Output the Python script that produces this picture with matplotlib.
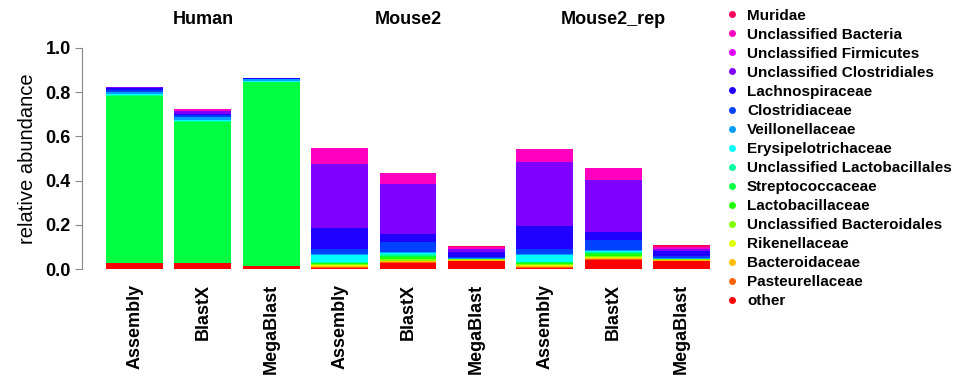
import numpy as np
import matplotlib
matplotlib.use('Agg')
import matplotlib.pyplot as plt
from matplotlib.colors import hsv_to_rgb
from matplotlib.lines import Line2D

plt.rcParams['font.family'] = ['Liberation Sans', 'DejaVu Sans']

groups = ['Human', 'Mouse2', 'Mouse2_rep']
methods = ['Assembly', 'BlastX', 'MegaBlast']

# families from the bottom of the stack to the top
families = ['other', 'Pasteurellaceae', 'Bacteroidaceae', 'Rikenellaceae',
            'Unclassified Bacteroidales', 'Lactobacillaceae',
            'Streptococcaceae', 'Unclassified Lactobacillales',
            'Erysipelotrichaceae', 'Veillonellaceae', 'Clostridiaceae',
            'Lachnospiraceae', 'Unclassified Clostridiales',
            'Unclassified Firmicutes', 'Unclassified Bacteria', 'Muridae']

# columns: Human A/B/M, Mouse2 A/B/M, Mouse2_rep A/B/M
other = [0.027, 0.027, 0.015, 0.005, 0.028, 0.036, 0.006, 0.040, 0.037]
pasteurellaceae = [0, 0, 0, 0.004, 0.003, 0.002, 0.004, 0.004, 0.002]
bacteroidaceae = [0, 0, 0, 0.004, 0.004, 0.002, 0.004, 0.005, 0.002]
rikenellaceae = [0, 0, 0, 0.004, 0.004, 0.002, 0.004, 0.005, 0.002]
uncl_bacteroidales = [0, 0, 0, 0.006, 0.006, 0.002, 0.006, 0.006, 0.002]
lactobacillaceae = [0, 0, 0, 0.005, 0.009, 0.001, 0.005, 0.008, 0.001]
streptococcaceae = [0.757, 0.636, 0.830, 0.002, 0.006, 0.001, 0.002, 0.006, 0.001]
uncl_lactobacillales = [0.002, 0.006, 0, 0.003, 0.008, 0, 0.003, 0.004, 0]
erysipelotrichaceae = [0.004, 0.006, 0.004, 0.032, 0.006, 0.001, 0.032, 0.005, 0.001]
veillonellaceae = [0.012, 0.012, 0.010, 0.004, 0.004, 0.002, 0.004, 0.002, 0.002]
clostridiaceae = [0.008, 0.008, 0.002, 0.022, 0.045, 0.008, 0.022, 0.045, 0.008]
lachnospiraceae = [0.007, 0.007, 0.001, 0.097, 0.038, 0.020, 0.105, 0.038, 0.022]
uncl_clostridiales = [0.006, 0.012, 0.001, 0.287, 0.226, 0.012, 0.287, 0.234, 0.012]
uncl_firmicutes = [0, 0, 0, 0, 0, 0, 0, 0, 0]
uncl_bacteria = [0, 0.008, 0, 0.072, 0.046, 0.010, 0.060, 0.053, 0.010]
muridae = [0, 0, 0, 0, 0, 0.006, 0, 0, 0.006]

stack = [other, pasteurellaceae, bacteroidaceae, rikenellaceae,
         uncl_bacteroidales, lactobacillaceae, streptococcaceae,
         uncl_lactobacillales, erysipelotrichaceae, veillonellaceae,
         clostridiaceae, lachnospiraceae, uncl_clostridiales,
         uncl_firmicutes, uncl_bacteria, muridae]

n = len(families)
colors = [hsv_to_rgb((i / n, 1, 1)) for i in range(n)]

labels = methods * len(groups)
x = 0.7 + 1.2 * np.arange(len(labels))

fig = plt.figure(figsize=(9.65, 3.81), dpi=100)
ax = fig.add_axes([82 / 965, 103 / 381, 652 / 965, 239 / 381])

bottom = np.zeros(len(labels))
for vals, c in zip(stack, colors):
    vals = np.array(vals)
    ax.bar(x, vals, width=1.0, bottom=bottom, color=c, linewidth=0)
    bottom += vals

ax.set_xlim(-0.224, 11.224)
ax.set_ylim(-0.04, 1.04)
for s in ['top', 'right', 'bottom']:
    ax.spines[s].set_visible(False)
ax.spines['left'].set_bounds(0, 1)
ax.spines['left'].set_color('#888888')
ax.set_yticks(np.arange(0, 1.01, 0.2))
ax.set_yticklabels(['%.1f' % v for v in np.arange(0, 1.01, 0.2)],
                   fontsize=13, fontweight='bold')
ax.tick_params(axis='y', color='#888888', length=5, pad=3)
ax.set_xticks(x)
ax.set_xticklabels(labels, rotation=90, fontsize=13, fontweight='bold')
ax.tick_params(axis='x', length=0, pad=4)
ax.set_ylabel('relative abundance', fontsize=14.5, labelpad=6)

for i, g in enumerate(groups):
    ax.text(x[3 * i + 1], 1.08, g, transform=ax.get_xaxis_transform(),
            ha='center', va='center', fontsize=13, fontweight='bold')

handles = [Line2D([], [], marker='o', linestyle='none', markersize=5,
                  markerfacecolor=c, markeredgewidth=0) for c in colors]
leg = fig.legend(handles[::-1], families[::-1], loc='upper left',
                 bbox_to_anchor=(718 / 965, 1 - 1 / 381), frameon=False,
                 borderpad=0, handlelength=0.8, handletextpad=0.6,
                 labelspacing=0.33, prop={'size': 11, 'weight': 'bold'})

fig.savefig('out.png', dpi=100)
